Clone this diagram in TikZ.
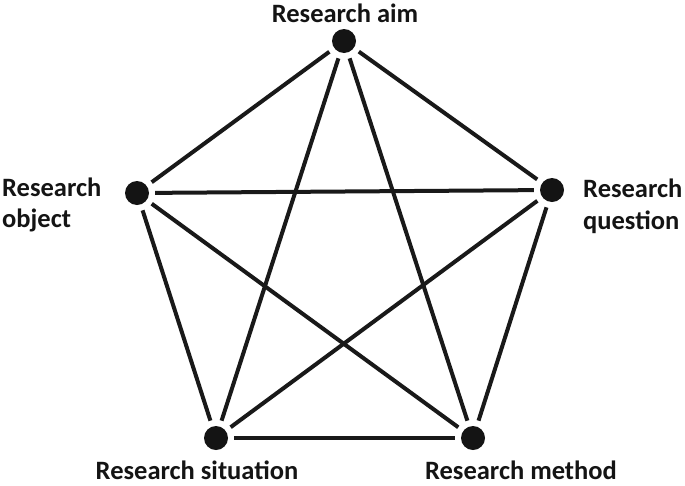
\documentclass[tikz,border=0pt]{standalone}
\usepackage{fontspec}
\setmainfont{Carlito}
\begin{document}
\begin{tikzpicture}[x=1pt,y=-1pt,
  dotnode/.style={circle,fill=black!92,inner sep=0pt,minimum size=24pt},
  conn/.style={line width=4pt,draw=black!90,shorten >=6pt,shorten <=6pt},
  lab/.style={inner sep=0pt,font=\fontsize{26.5}{30}\selectfont\bfseries,text=black!92}]
\useasboundingbox (0,0) rectangle (685,485);
\node[dotnode] (aim) at (344,41) {};
\node[dotnode] (obj) at (137,193) {};
\node[dotnode] (que) at (552,190) {};
\node[dotnode] (sit) at (216,438) {};
\node[dotnode] (met) at (473,438) {};
\draw[conn] (aim) -- (obj);
\draw[conn] (aim) -- (que);
\draw[conn] (aim) -- (sit);
\draw[conn] (aim) -- (met);
\draw[conn] (obj) -- (que);
\draw[conn] (obj) -- (sit);
\draw[conn] (obj) -- (met);
\draw[conn] (que) -- (sit);
\draw[conn] (que) -- (met);
\draw[conn] (sit) -- (met);
\node[lab,anchor=base] (laim) at (345,22) {Research aim};
\node[lab,anchor=base west] (lobja) at (2,196) {Research};
\node[lab,anchor=base west] (lobjb) at (2,227) {object};
\node[lab,anchor=base west] (lquea) at (583,197) {Research};
\node[lab,anchor=base west] (lqueb) at (583,229) {question};
\node[lab,anchor=base] (lsit) at (197,479) {Research situation};
\node[lab,anchor=base] (lmet) at (521,479) {Research method};
\end{tikzpicture}
\end{document}
